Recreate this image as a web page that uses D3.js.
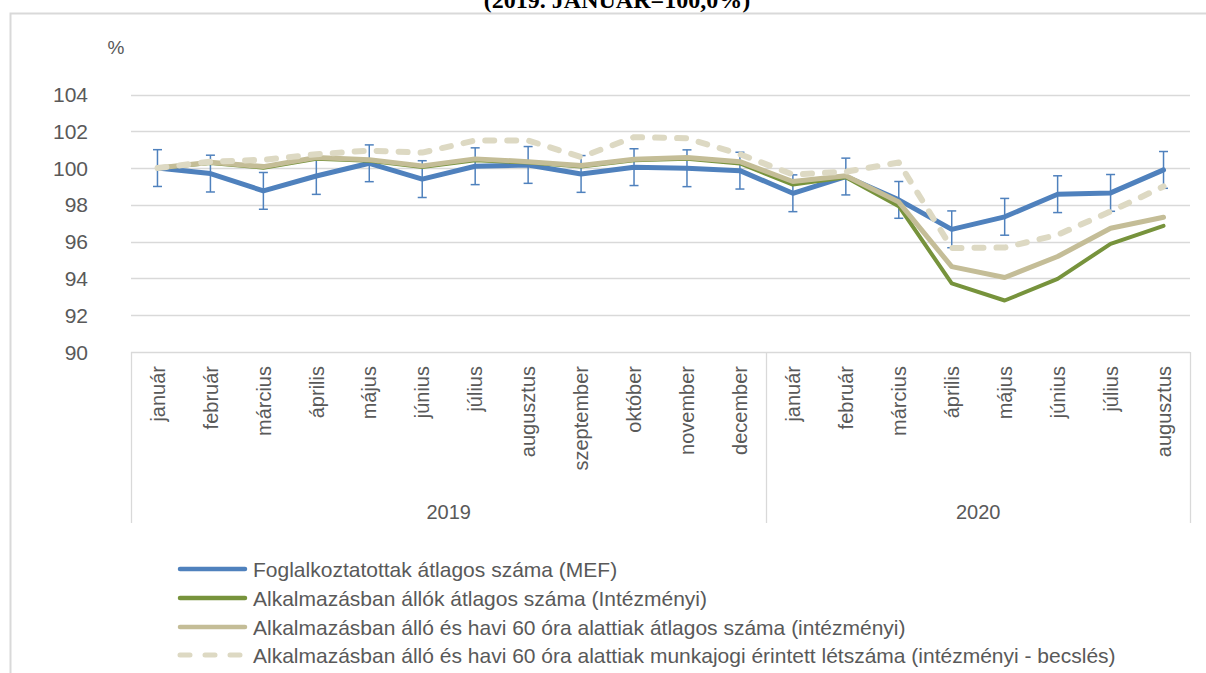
<!DOCTYPE html>
<html>
<head>
<meta charset="utf-8">
<script src="https://cdn.jsdelivr.net/npm/d3@7"></script>
<style>
  body { margin: 0; background: #fff; }
  svg text { font-family: 'Liberation Sans Narrow', 'Liberation Sans', Arial, sans-serif; fill: #595959; }
</style>
</head>
<body>
<div id="chart"></div>
<script>
const months = ["január", "február", "március", "április", "május", "június", "július", "augusztus",
    "szeptember", "október", "november", "december",
    "január", "február", "március", "április", "május", "június", "július", "augusztus"];
const years = ["2019", "2020"];
const monthsPerYear = [12, 8];
const yTicks = [90, 92, 94, 96, 98, 100, 102, 104];

const mef = [100.0, 99.7, 98.76, 99.57, 100.26, 99.4, 100.1, 100.17, 99.68, 100.05, 99.99, 99.86,
    98.63, 99.54, 98.27, 96.67, 97.35, 98.58, 98.65, 99.9];
const mefError = 1.0;
const intezmenyi = [100.0, 100.28, 100.02, 100.5, 100.4, 100.06, 100.42, 100.3, 100.08, 100.42, 100.5, 100.25,
    99.1, 99.5, 97.93, 93.73, 92.8, 93.98, 95.88, 96.86];
const hatvanOra = [100.0, 100.32, 100.08, 100.57, 100.45, 100.12, 100.5, 100.35, 100.14, 100.48, 100.57, 100.35,
    99.27, 99.58, 98.15, 94.64, 94.05, 95.19, 96.73, 97.33];
const munkajogi = [100.0, 100.35, 100.45, 100.75, 100.95, 100.84, 101.5, 101.5, 100.6, 101.68, 101.62, 100.75,
    99.65, 99.8, 100.3, 95.65, 95.68, 96.37, 97.64, 99.0];

const seriesNames = [
    "Foglalkoztatottak átlagos száma (MEF)",
    "Alkalmazásban állók átlagos száma (Intézményi)",
    "Alkalmazásban álló és havi 60 óra alattiak átlagos  száma (intézményi)",
    "Alkalmazásban álló és havi 60 óra alattiak munkajogi érintett létszáma (intézményi - becslés)"
];

const width = 1206, height = 673;
const plot = { left: 131, right: 1190, top: 94.5, bottom: 352 };
const axisBottom = 523;

const svg = d3.select("#chart").append("svg")
    .attr("width", width)
    .attr("height", height);

// title (its upper half is cut off in the original)
svg.append("text")
    .attr("x", 617)
    .attr("y", 8)
    .attr("text-anchor", "middle")
    .style("font-family", "'Liberation Serif', 'DejaVu Serif', serif")
    .style("font-weight", "bold")
    .style("font-size", "24px")
    .style("fill", "#000")
    .text("(2019. JANUÁR=100,0%)");

// chart area border
svg.append("rect")
    .attr("x", 10.5).attr("y", 13.5)
    .attr("width", 1220).attr("height", 700)
    .attr("fill", "none")
    .attr("stroke", "#d9d9d9")
    .attr("stroke-width", 2);

const idx = d3.range(months.length);
const x = d3.scalePoint()
    .domain(idx)
    .range([plot.left, plot.right])
    .padding(0.5);
const step = x.step();

const y = d3.scaleLinear()
    .domain([90, 104])
    .range([plot.bottom, plot.top]);

// gridlines
svg.append("g")
    .selectAll("line")
    .data(yTicks)
    .enter().append("line")
    .attr("x1", plot.left)
    .attr("x2", plot.right)
    .attr("y1", d => Math.round(y(d)) + 0.5)
    .attr("y2", d => Math.round(y(d)) + 0.5)
    .attr("stroke", "#d9d9d9")
    .attr("stroke-width", 1.3);

// y labels
svg.append("g")
    .selectAll("text")
    .data(yTicks)
    .enter().append("text")
    .attr("x", 88)
    .attr("y", d => y(d))
    .attr("dy", "0.36em")
    .attr("text-anchor", "end")
    .style("font-size", "21px")
    .text(d => d);

svg.append("text")
    .attr("x", 116)
    .attr("y", 47)
    .attr("dy", "0.36em")
    .attr("text-anchor", "middle")
    .style("font-size", "19px")
    .text("%");

// category axis box: outer lines and year separator
let boundaries = [0];
monthsPerYear.forEach(n => boundaries.push(boundaries[boundaries.length - 1] + n));
svg.append("g")
    .selectAll("line")
    .data(boundaries)
    .enter().append("line")
    .attr("x1", d => Math.round(plot.left + d * step) + 0.5)
    .attr("x2", d => Math.round(plot.left + d * step) + 0.5)
    .attr("y1", plot.bottom)
    .attr("y2", axisBottom)
    .attr("stroke", "#d9d9d9")
    .attr("stroke-width", 1.3);

// month labels (rotated)
svg.append("g")
    .selectAll("text")
    .data(idx)
    .enter().append("text")
    .attr("transform", d => `translate(${x(d)},366) rotate(-90)`)
    .attr("dy", "0.36em")
    .attr("text-anchor", "end")
    .style("font-size", "20px")
    .text(d => months[d]);

// year labels
svg.append("g")
    .selectAll("text")
    .data(years)
    .enter().append("text")
    .attr("x", (d, i) => plot.left + (boundaries[i] + boundaries[i + 1]) / 2 * step)
    .attr("y", 512)
    .attr("dy", "0.36em")
    .attr("text-anchor", "middle")
    .style("font-size", "20px")
    .text(d => d);

const line = d3.line()
    .x((d, i) => x(i))
    .y(d => y(d));

const styles = [
    { data: mef, color: "#4f81bd", width: 5, dash: null },
    { data: intezmenyi, color: "#77933c", width: 4, dash: null },
    { data: hatvanOra, color: "#c4bd97", width: 5, dash: null },
    { data: munkajogi, color: "#ddd9c3", width: 6, dash: "9,13" }
];

styles.forEach((s, k) => {
    svg.append("path")
        .datum(s.data)
        .attr("d", line)
        .attr("fill", "none")
        .attr("stroke", s.color)
        .attr("stroke-width", s.width)
        .attr("stroke-linejoin", "round")
        .attr("stroke-linecap", "round")
        .attr("stroke-dasharray", s.dash);

    if (k === 0) {
        // error bars on the MEF series
        const eb = svg.append("g")
            .attr("stroke", "#4f81bd")
            .attr("stroke-width", 1.5);
        eb.selectAll(".bar")
            .data(mef)
            .enter().append("line")
            .attr("x1", (d, i) => x(i))
            .attr("x2", (d, i) => x(i))
            .attr("y1", d => y(d + mefError))
            .attr("y2", d => y(d - mefError));
        [1, -1].forEach(sign => {
            eb.selectAll(".cap" + sign)
                .data(mef)
                .enter().append("line")
                .attr("x1", (d, i) => x(i) - 4.5)
                .attr("x2", (d, i) => x(i) + 4.5)
                .attr("y1", d => y(d + sign * mefError))
                .attr("y2", d => y(d + sign * mefError));
        });
    }
});

// legend
const legendRows = [569, 598, 627, 655];
const legend = svg.append("g");
styles.forEach((s, k) => {
    legend.append("line")
        .attr("x1", 180)
        .attr("x2", 245)
        .attr("y1", legendRows[k])
        .attr("y2", legendRows[k])
        .attr("stroke", s.color)
        .attr("stroke-width", s.dash ? 5 : 4.5)
        .attr("stroke-linecap", "round")
        .attr("stroke-dasharray", s.dash ? "10,15" : null);
    legend.append("text")
        .attr("x", 253)
        .attr("y", legendRows[k])
        .attr("dy", "0.36em")
        .style("font-size", "21px")
        .text(seriesNames[k]);
});
</script>
</body>
</html>
